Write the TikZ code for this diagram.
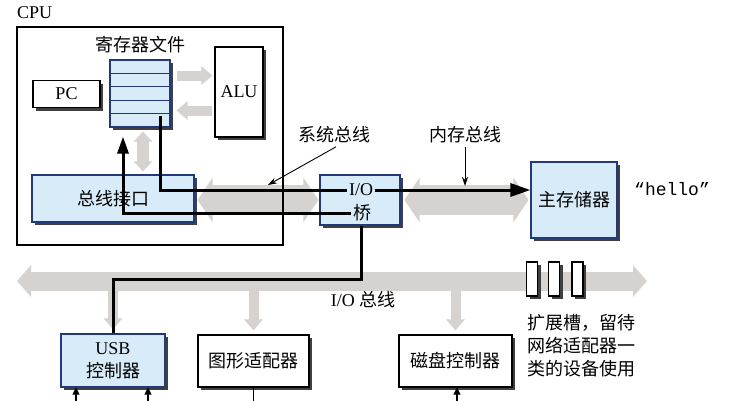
\documentclass[tikz,border=0pt]{standalone}
\usepackage{fontspec}
\setmainfont{Liberation Serif}
\setmonofont{Liberation Mono}
\newfontfamily\cjk{Noto Sans CJK SC}
\usetikzlibrary{arrows.meta,calc,positioning,shadows}
\definecolor{cfill}{HTML}{D7ECF8}
\definecolor{cedge}{HTML}{22397A}
\definecolor{cgray}{HTML}{D5D2D0}
\tikzset{
  cshadow/.style={drop shadow={shadow xshift=3pt,shadow yshift=-3pt,fill=black!75,opacity=1}},
  cwbox/.style={cshadow, draw=black, fill=white, line width=1.1pt, inner sep=0pt, align=center},
  cbbox/.style={cshadow, draw=cedge, fill=cfill, line width=1.1pt, inner sep=0pt, align=center},
  czh/.style={font=\cjk\fontsize{18}{23}\selectfont},
  csysbus/.style={cgray, line width=30pt, arrows={Triangle[length=15pt,width=44pt]-Triangle[length=15pt,width=44pt]}},
  ciobus/.style={cgray, line width=19pt, arrows={Triangle[length=14pt,width=31pt]-Triangle[length=14pt,width=31pt]}},
  csmall/.style={cgray, line width=10pt, arrows={-Triangle[length=11pt,width=18pt]}},
  cwire/.style={black, line width=3pt},
  cptr/.style={black, line width=0.9pt, arrows={-Stealth[length=9pt,width=6pt]}},
  cthin/.style={black, line width=1.1pt, arrows={-Triangle[length=7pt,width=7pt]}},
}
\begin{document}
\begin{tikzpicture}[x=1pt,y=-1pt,every node/.append style={font=\fontsize{18}{23}\selectfont}]
  \useasboundingbox (0,0) rectangle (739,400);
  \fill[white] (0,0) rectangle (739,400);

  % CPU
  \node[anchor=west, inner sep=0pt] (cpulbl) at (17,13) {CPU};
  \node[cwbox, minimum width=67pt, minimum height=27pt] (pc) at (66.5,94) {PC};
  \node[cbbox, minimum width=60pt, minimum height=67pt] (reg) at (140,93.5) {};
  \foreach \k in {1,2,3,4}
    \draw[cedge, line width=1.1pt] ($(reg.north west)!\k/5!(reg.south west)$) -- ($(reg.north east)!\k/5!(reg.south east)$);
  \node[czh] (reglbl) at (140,45) {寄存器文件};
  \node[cwbox, minimum width=48pt, minimum height=90pt] (alu) at (239,92) {ALU};
  \node[cbbox, czh, minimum width=162pt, minimum height=47pt] (bif) at (113,198.5) {总线接口};

  % bridge, memory
  \node[cbbox, minimum width=80pt, minimum height=50pt] (bridge) at (360,200) {};
  \node[inner sep=2pt] (iolbl) at (361,190) {I/O};
  \node[czh, inner sep=2pt] (qiao) at (362,213) {桥};
  \node[cbbox, czh, minimum width=86pt, minimum height=76pt] (mem) at (574,200) {主存储器};
  \node (hello) at (672,189) {\ttfamily “hello”};

  % I/O devices
  \node[cbbox, minimum width=104pt, minimum height=53pt] (usb) at (113,360.5) {USB\\{\cjk 控制器}};
  \node[cwbox, czh, minimum width=111pt, minimum height=52pt] (gfx) at (253.5,361) {图形适配器};
  \node[cwbox, czh, minimum width=113pt, minimum height=52pt] (disk) at (455.5,361) {磁盘控制器};

  % gray buses
  \draw[csmall, shorten <=6pt, shorten >=2pt] ([yshift=18pt]reg.east) -- ([yshift=18pt]reg.east -| alu.west);
  \draw[csmall, shorten <=2pt, shorten >=6pt] ([yshift=-17pt]reg.east -| alu.west) -- ([yshift=-17pt]reg.east);
  \draw[cgray, line width=12pt, arrows={Triangle[length=10pt,width=18pt]-Triangle[length=10pt,width=18pt]}, shorten <=4pt, shorten >=3pt]
    ([xshift=3pt]reg.south) -- ([xshift=3pt]reg.south |- bif.north);
  \draw[csysbus, shorten <=3pt, shorten >=1pt] (bif.east |- bridge.west) -- (bridge.west);
  \draw[csysbus, shorten <=4pt, shorten >=2pt] (bridge.east) -- (mem.west);

  \coordinate (ioL) at (17,281);
  \coordinate (ioR) at (647,281);
  \draw[ciobus] (ioL) -- (ioR);
  \foreach \dev in {usb,gfx,disk}
    \draw[csmall, shorten <=9pt, shorten >=4pt] (\dev.north |- ioL) -- (\dev.north);
  \foreach \sx [count=\i] in {532,554,577.5}
    \node[cwbox, minimum width=11pt, minimum height=34pt] (slot\i) at (\sx,279) {};
  \node[czh, anchor=west, align=left, inner sep=0pt] (slotlbl) at (527,346) {扩展槽，留待\\网络适配器一\\类的设备使用};
  \node (iobuslbl) at (363,300) {I/O {\cjk 总线}};

  % CPU frame
  \node[draw, line width=1.6pt, minimum width=266pt, minimum height=218pt] (cpu) at (150,136) {};

  % wires
  \draw[cwire] ($(reg.south)+(20,-12)$) |- (iolbl.west);
  \draw[cwire, arrows={-Triangle[length=20pt,width=13pt]}] (iolbl.east) -- (iolbl.east -| mem.west);
  \draw[cwire, arrows={-Triangle[length=17pt,width=11pt]}] (qiao.west) -| ($(reg.south)+(-17,9)$);
  \draw[cwire] ([xshift=1pt]bridge.south) -- ++(0,54) -| (usb.north);

  % bus labels
  \node[czh] (syslbl) at (334,135) {系统总线};
  \coordinate (systip) at (268,185);
  \draw[cptr] ([xshift=2pt]syslbl.south) -- (systip);
  \node[czh] (memlbl) at (465,135) {内存总线};
  \coordinate (memtip) at (465,186);
  \draw[cptr] (memlbl.south) -- (memtip);

  % device links
  \draw[cthin] ([xshift=-37pt]usb.south) ++(0,13) -- ++(0,-13);
  \draw[cthin] ([xshift=35pt]usb.south) ++(0,13) -- ++(0,-13);
  \draw[black, line width=1.1pt] (gfx.south) -- ++(0,13);
  \draw[cthin] ([xshift=1.5pt]disk.south) ++(0,13) -- ++(0,-13);
\end{tikzpicture}
\end{document}
